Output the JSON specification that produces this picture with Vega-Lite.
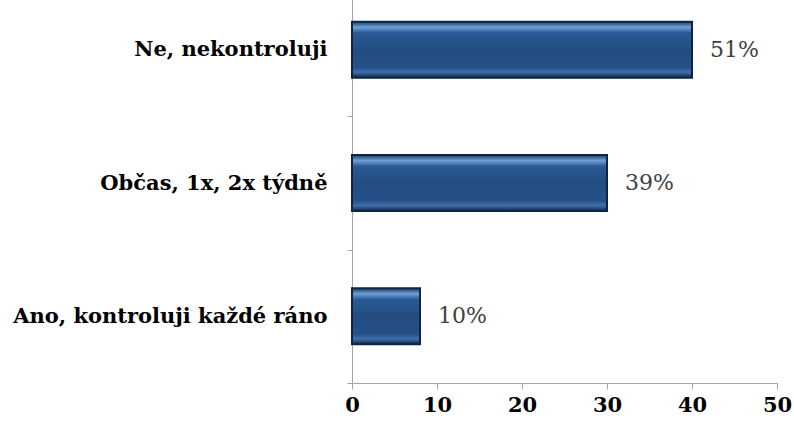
{
  "$schema": "https://vega.github.io/schema/vega-lite/v6.json",
  "width": 425,
  "height": 383,
  "autosize": "none",
  "padding": {"left": 352, "top": 0, "right": 17, "bottom": 43},
  "background": "white",
  "config": {"view": {"stroke": null}},
  "data": {
    "values": [
      {"cat": "Ne, nekontroluji", "value": 40, "pct": "51%"},
      {"cat": "Občas, 1x, 2x týdně", "value": 30, "pct": "39%"},
      {"cat": "Ano, kontroluji každé ráno", "value": 8, "pct": "10%"}
    ]
  },
  "encoding": {
    "y": {
      "field": "cat",
      "type": "nominal",
      "sort": null,
      "scale": {"range": [-17, 383], "paddingInner": 0, "paddingOuter": 0},
      "axis": {
        "title": null,
        "tickBand": "extent",
        "domainColor": "#a6a6a6",
        "tickColor": "#a6a6a6",
        "tickSize": 5,
        "labelFont": "DejaVu Serif",
        "labelFontWeight": "bold",
        "labelFontSize": 21,
        "labelColor": "#000000",
        "labelPadding": 20,
        "labelLimit": 400
      }
    },
    "x": {
      "field": "value",
      "type": "quantitative",
      "scale": {"domain": [0, 50], "nice": false},
      "axis": {
        "title": null,
        "values": [0, 10, 20, 30, 40, 50],
        "grid": false,
        "domainColor": "#a6a6a6",
        "tickColor": "#a6a6a6",
        "tickSize": 6,
        "labelFont": "DejaVu Serif",
        "labelFontWeight": "bold",
        "labelFontSize": 21,
        "labelColor": "#000000",
        "labelPadding": 5,
        "labelFlush": false
      }
    }
  },
  "layer": [
    {
      "mark": {
        "type": "bar",
        "size": 56,
        "stroke": "#0e2440",
        "strokeWidth": 2,
        "color": {
          "gradient": "linear",
          "x1": 0, "y1": 0, "x2": 0, "y2": 1,
          "stops": [
            {"offset": 0, "color": "#1a3a66"},
            {"offset": 0.1, "color": "#6f9fd8"},
            {"offset": 0.2, "color": "#2a5a94"},
            {"offset": 0.5, "color": "#234d80"},
            {"offset": 0.82, "color": "#255189"},
            {"offset": 0.9, "color": "#3f70ad"},
            {"offset": 1, "color": "#10294a"}
          ]
        }
      }
    },
    {
      "mark": {
        "type": "text",
        "align": "left",
        "baseline": "middle",
        "dx": 18,
        "font": "DejaVu Serif",
        "fontSize": 22,
        "color": "#404040"
      },
      "encoding": {"text": {"field": "pct"}}
    }
  ]
}
